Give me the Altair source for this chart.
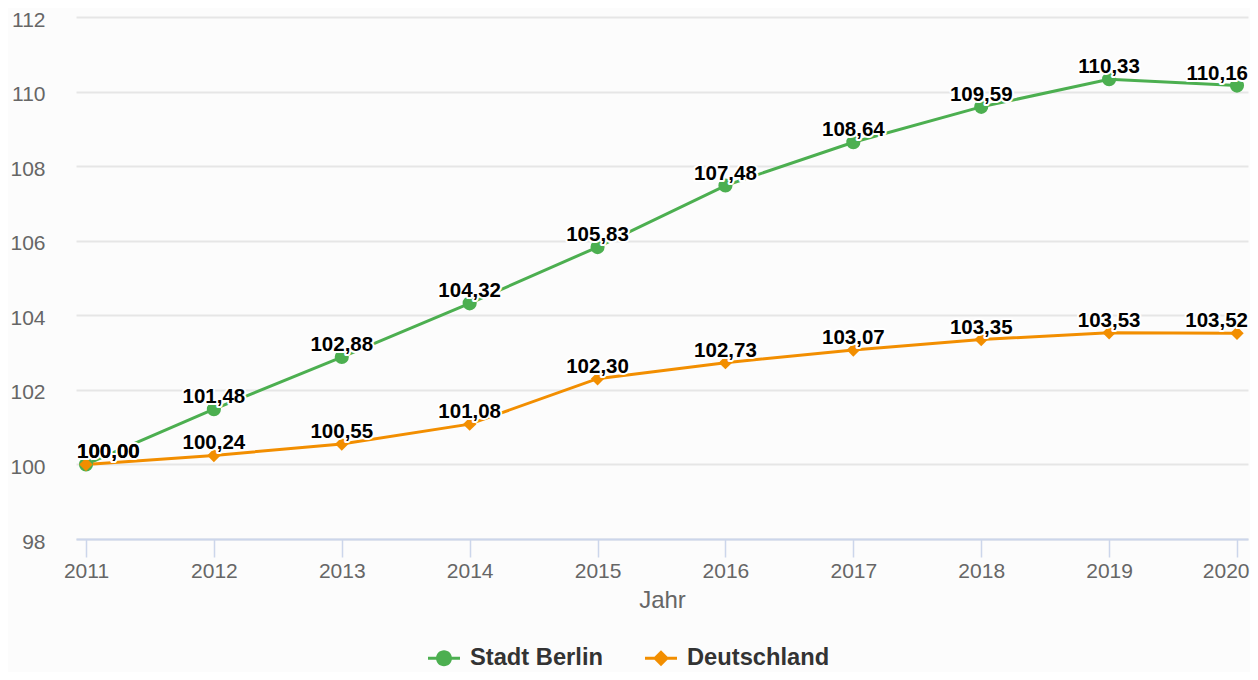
import altair as alt
import pandas as pd

years = [2011, 2012, 2013, 2014, 2015, 2016, 2017, 2018, 2019, 2020]
berlin = [100.00, 101.48, 102.88, 104.32, 105.83, 107.48, 108.64, 109.59, 110.33, 110.16]
deutschland = [100.00, 100.24, 100.55, 101.08, 102.30, 102.73, 103.07, 103.35, 103.53, 103.52]
series_names = ["Stadt Berlin", "Deutschland"]
series_colors = ["#4CAF50", "#F28E00"]
y_ticks = [98, 100, 102, 104, 106, 108, 110, 112]

rows = []
for name, vals in zip(series_names, [berlin, deutschland]):
    for yr, v in zip(years, vals):
        rows.append({"Jahr": yr, "Wert": v, "Serie": name})
df = pd.DataFrame(rows)

FONT = "Liberation Sans"
first_year, last_year = years[0], years[-1]

circ_path = ("M-1,-0.094L1,-0.094L1,0.094L-1,0.094Z "
             "M-0.5,0A0.5,0.5,0,1,1,0.5,0A0.5,0.5,0,1,1,-0.5,0Z")
diam_path = ("M-1,-0.094L1,-0.094L1,0.094L-1,0.094Z "
             "M-0.5,0L0,-0.5L0.5,0L0,0.5Z")

cscale = alt.Scale(domain=series_names, range=series_colors)

x = alt.X(
    "Jahr:Q",
    scale=alt.Scale(domain=[2010.9218, 2020.086], nice=False, zero=False),
    axis=alt.Axis(
        values=years, format="d", title="Jahr", grid=False,
        domainColor="#ccd6eb", domainWidth=2, tickColor="#ccd6eb", tickWidth=1.5,
        tickSize=18, labelColor="#666666", labelFontSize=21, labelFont=FONT,
        labelPadding=3,
        labelAlign={"condition": {"test": f"datum.value == {last_year}", "value": "right"}, "value": "center"},
        labelOffset={"condition": {"test": f"datum.value == {last_year}", "value": 12}, "value": 0},
        titleColor="#666666", titleFontSize=24, titleFont=FONT,
        titleFontWeight="normal", titlePadding=7,
    ),
)
y = alt.Y(
    "Wert:Q",
    scale=alt.Scale(domain=[98, 112], nice=False, zero=False),
    axis=alt.Axis(
        values=y_ticks, title=None, domain=False, ticks=False,
        gridColor="#e6e6e6", gridWidth=2, labelColor="#666666",
        labelFontSize=21, labelFont=FONT, labelPadding=31, labelOffset=3,
    ),
)

base = alt.Chart(df)
layers = []

# legend-carrying layer (drawn tiny, hidden below the real markers)
legend_layer = base.mark_point(filled=True, opacity=1, strokeWidth=0, size=1).encode(
    x=x, y=y,
    color=alt.Color(
        "Serie:N", scale=cscale,
        legend=alt.Legend(
            title=None, orient="none", direction="horizontal",
            legendX=352, legendY=625, padding=0,
            symbolSize=1024, symbolOpacity=1, symbolStrokeWidth=0,
            labelOffset=10, columnPadding=42,
            labelFont=FONT, labelFontSize=23.7, labelFontWeight="bold",
            labelColor="#333333",
        ),
    ),
    shape=alt.Shape("Serie:N", scale=alt.Scale(domain=series_names, range=[circ_path, diam_path])),
)
layers.append(legend_layer)

for name, col in zip(series_names, series_colors):
    sub = base.transform_filter(alt.datum.Serie == name)
    layers.append(sub.mark_line(strokeWidth=3, color=col).encode(x="Jahr:Q", y="Wert:Q"))
for name, col, shp, sz in zip(series_names, series_colors, ["circle", "diamond"], [200, 180]):
    sub = base.transform_filter(alt.datum.Serie == name)
    layers.append(sub.mark_point(filled=True, opacity=1, strokeWidth=0, shape=shp,
                                 size=sz, color=col).encode(x="Jahr:Q", y="Wert:Q"))

label_base = base.transform_calculate(
    label="replace(format(datum.Wert, '.2f'), '.', ',')"
)
groups = [
    (alt.datum.Jahr == first_year, "left", -9),
    ((alt.datum.Jahr > first_year) & (alt.datum.Jahr < last_year), "center", 0),
    (alt.datum.Jahr == last_year, "right", 11),
]
text_style = dict(font=FONT, fontSize=20.5, fontWeight="bold", baseline="alphabetic", dy=-6)
for halo in (True, False):
    for cond, al, ddx in groups:
        sub = label_base.transform_filter(cond)
        if halo:
            mk = sub.mark_text(align=al, dx=ddx, stroke="white", strokeWidth=4,
                               strokeJoin="round", fill="white", **text_style)
        else:
            mk = sub.mark_text(align=al, dx=ddx, color="#000000", **text_style)
        layers.append(mk.encode(x="Jahr:Q", y="Wert:Q", text="label:N"))

chart = alt.layer(*layers).properties(
    width=1172, height=522,
    autosize=alt.AutoSizeParams(type="none"),
    padding={"left": 68, "top": 9, "right": 2, "bottom": 133},
    background="#fcfcfc",
).configure_view(stroke=None)

chart.save("out.html", embed_options={"renderer": "svg", "actions": False})
